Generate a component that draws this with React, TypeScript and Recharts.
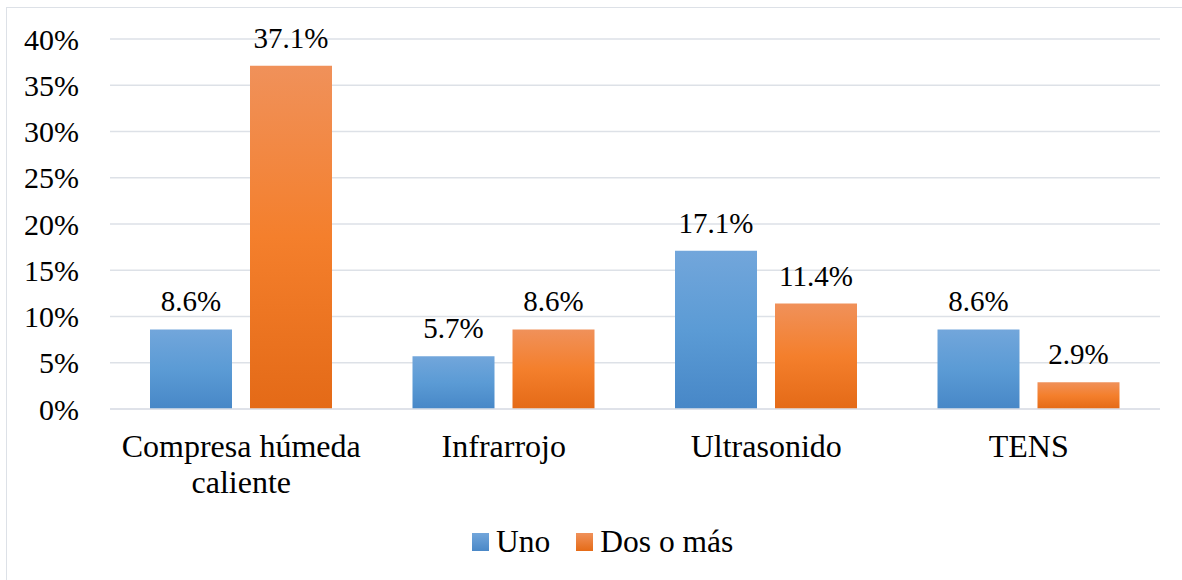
import { BarChart, Bar, XAxis, YAxis, CartesianGrid, Legend, LabelList } from 'recharts';

const CATEGORIES = ['Compresa húmeda caliente', 'Infrarrojo', 'Ultrasonido', 'TENS'];
const UNO = [8.6, 5.7, 17.1, 8.6];
const DOS_O_MAS = [37.1, 8.6, 11.4, 2.9];
const Y_TICKS = [0, 5, 10, 15, 20, 25, 30, 35, 40];

const SERIES = [
  { key: 'uno', name: 'Uno', fill: 'url(#gradUno)', swatch: 'linear-gradient(#72a6db, #4a88c7)' },
  { key: 'dos', name: 'Dos o más', fill: 'url(#gradDos)', swatch: 'linear-gradient(#f0915a, #e56b17)' },
];

const FONT = 'Times New Roman';
const GRID = '#dde1e7';

const data = CATEGORIES.map((name, i) => ({ name, uno: UNO[i], dos: DOS_O_MAS[i] }));

// wrap long category names onto several lines
function wrapWords(text: string, maxChars: number) {
  const lines: string[] = [];
  let cur = '';
  for (const w of text.split(' ')) {
    const next = cur ? cur + ' ' + w : w;
    if (next.length > maxChars && cur) {
      lines.push(cur);
      cur = w;
    } else {
      cur = next;
    }
  }
  if (cur) lines.push(cur);
  return lines;
}

function CategoryTick(props: any) {
  const { x, y, payload } = props;
  const lines = wrapWords(String(payload.value), 16);
  return (
    <text x={x} y={y + 48} textAnchor="middle" fontFamily={FONT} fontSize={32} fill="#000">
      {lines.map((l, i) => (
        <tspan key={i} x={x} dy={i === 0 ? 0 : 36}>
          {l}
        </tspan>
      ))}
    </text>
  );
}

function LegendContent() {
  return (
    <div style={{ display: 'flex', alignItems: 'center', fontFamily: FONT, fontSize: 31.5, lineHeight: '31px', color: '#000' }}>
      {SERIES.map((s, i) => (
        <div key={s.key} style={{ display: 'flex', alignItems: 'center', marginRight: i === 0 ? 26 : 0 }}>
          <span style={{ display: 'inline-block', width: 17, height: 18, marginRight: 7, background: s.swatch }} />
          <span style={{ whiteSpace: 'nowrap' }}>{s.name}</span>
        </div>
      ))}
    </div>
  );
}

export default function App() {
  return (
    <div style={{ position: 'absolute', left: 0, top: 0, width: 1182, height: 580, overflow: 'hidden', background: '#fff' }}>
      <div
        style={{
          position: 'absolute',
          left: 6,
          top: 7,
          width: 1200,
          height: 600,
          border: `1.5px solid ${GRID}`,
        }}
      />
      <BarChart
        width={1182}
        height={580}
        data={data}
        margin={{ top: 39, right: 22, bottom: 141, left: 0 }}
        barSize={82}
        barGap={18}
      >
        <defs>
          <linearGradient id="gradUno" x1="0" y1="0" x2="0" y2="1">
            <stop offset="0%" stopColor="#72a6db" />
            <stop offset="50%" stopColor="#5b9bd5" />
            <stop offset="100%" stopColor="#4787c7" />
          </linearGradient>
          <linearGradient id="gradDos" x1="0" y1="0" x2="0" y2="1">
            <stop offset="0%" stopColor="#f0915a" />
            <stop offset="50%" stopColor="#f47f2c" />
            <stop offset="100%" stopColor="#e46a17" />
          </linearGradient>
        </defs>
        <CartesianGrid vertical={false} stroke={GRID} strokeWidth={1.5} />
        <XAxis
          dataKey="name"
          axisLine={{ stroke: GRID, strokeWidth: 1.5 }}
          tickLine={false}
          tickSize={0}
          tickMargin={0}
          interval={0}
          tick={<CategoryTick />}
        />
        <YAxis
          width={110}
          domain={[0, 40]}
          ticks={Y_TICKS}
          interval={0}
          axisLine={false}
          tickLine={false}
          tickSize={0}
          tickMargin={31}
          tickFormatter={(v: number) => `${v}%`}
          tick={{ fontFamily: FONT, fontSize: 30, fill: '#000' }}
        />
        {/* legend height is still taken off the plot, so bottom margin is 172 - 31 */}
        <Legend
          layout="horizontal"
          verticalAlign="middle"
          align="center"
          content={<LegendContent />}
          wrapperStyle={{ position: 'absolute', left: 472, top: 526, width: 320, height: 31 }}
        />
        {SERIES.map((s) => (
          <Bar key={s.key} dataKey={s.key} name={s.name} fill={s.fill} isAnimationActive={false}>
            <LabelList
              dataKey={s.key}
              position="top"
              offset={18}
              formatter={(v: any) => `${Number(v).toFixed(1)}%`}
              fontFamily={FONT}
              fontSize={29}
              fill="#000"
            />
          </Bar>
        ))}
      </BarChart>
    </div>
  );
}
